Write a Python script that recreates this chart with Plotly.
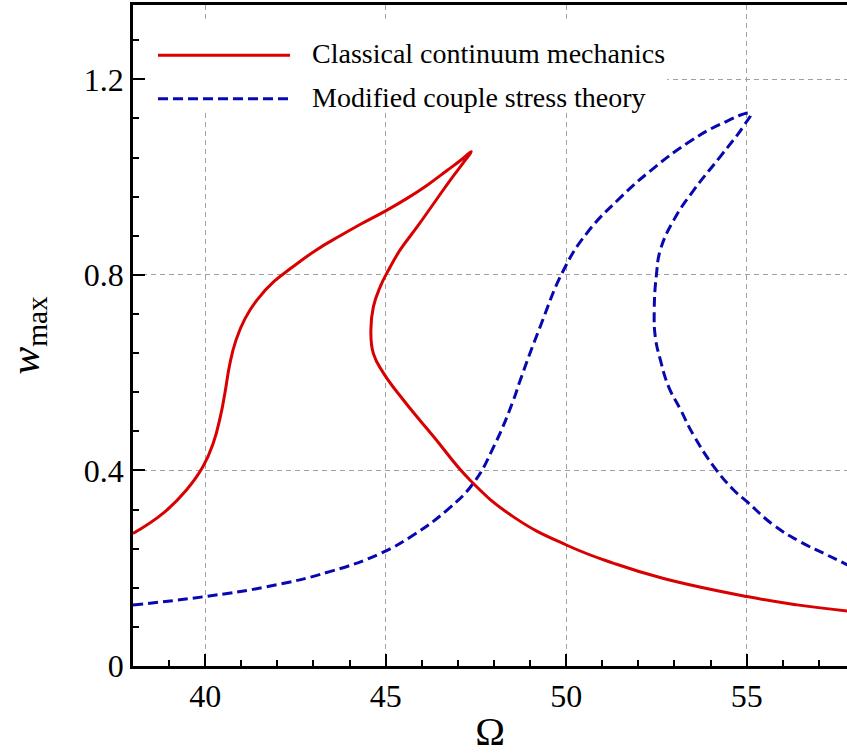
import plotly.graph_objects as go

# Classical continuum mechanics (path along the response curve)
ccm_omega = [38.0, 38.83, 39.48, 39.94, 40.22, 40.42, 40.55, 40.68, 40.85, 41.1, 41.45, 41.9, 42.4,
             43.08, 43.74, 44.29, 45.0, 45.58, 46.14, 46.69, 47.07, 47.37,
             47.21, 46.79, 46.33, 45.87, 45.4, 45.08, 44.85, 44.66, 44.59, 44.66, 44.94, 45.49,
             46.33, 47.34, 48.54, 50.02, 51.32, 52.7, 55.01, 56.4, 57.79]
ccm_w = [0.271, 0.312, 0.36, 0.408, 0.455, 0.51, 0.56, 0.617, 0.666, 0.71, 0.75, 0.786, 0.815,
         0.851, 0.880, 0.903, 0.931, 0.956, 0.983, 1.013, 1.034, 1.052,
         1.035, 0.994, 0.946, 0.898, 0.851, 0.81, 0.776, 0.735, 0.687, 0.639, 0.599, 0.544,
         0.469, 0.38, 0.305, 0.247, 0.21, 0.179, 0.142, 0.125, 0.1125]

# Modified couple stress theory
mcst_omega = [38.0, 39.99, 41.7, 43.45, 44.85, 45.77, 46.7, 47.43, 47.99, 48.54, 48.73, 49.28,
              49.93, 50.57, 51.5, 52.42, 53.35, 54.27, 55.1,
              54.91, 54.27, 53.53, 52.98, 52.61, 52.5, 52.44, 52.47, 52.61, 52.84, 53.17, 53.53,
              54.09, 54.64, 55.01, 55.75, 56.49, 57.23, 57.79]
mcst_w = [0.1247, 0.142, 0.162, 0.193, 0.23, 0.268, 0.319, 0.374, 0.448, 0.544, 0.585, 0.694,
          0.81, 0.885, 0.958, 1.018, 1.069, 1.108, 1.13,
          1.104, 1.042, 0.973, 0.912, 0.851, 0.80, 0.728, 0.673, 0.626, 0.571, 0.524, 0.472,
          0.408, 0.36, 0.336, 0.288, 0.254, 0.227, 0.207]

series_names = ["Classical continuum mechanics", "Modified couple stress theory"]
x_ticks = [40, 45, 50, 55]
y_ticks = [0, 0.4, 0.8, 1.2]

RED = "#d80000"
BLUE = "#0808b0"
FONT = "Liberation Serif"

fig = go.Figure()
fig.add_trace(go.Scatter(x=ccm_omega, y=ccm_w, mode="lines", name=series_names[0],
                         line=dict(color=RED, width=3, shape="spline", smoothing=1.3),
                         showlegend=False))
fig.add_trace(go.Scatter(x=mcst_omega, y=mcst_w, mode="lines", name=series_names[1],
                         line=dict(color=BLUE, width=3, dash="10px,5px", shape="spline", smoothing=1.3),
                         showlegend=False))

# manual legend box (white background hides grid)
fig.add_shape(type="rect", xref="x", yref="y", x0=38.2, x1=52.8, y0=1.131, y1=1.324,
              fillcolor="white", line=dict(width=0), layer="between")
fig.add_shape(type="line", xref="x domain", yref="y domain", x0=0.035, x1=0.220, y0=0.924, y1=0.924,
              line=dict(color=RED, width=3))
fig.add_shape(type="line", xref="x domain", yref="y domain", x0=0.035, x1=0.220, y0=0.858, y1=0.858,
              line=dict(color=BLUE, width=3, dash="10px,5px"))
for name, yy in zip(series_names, [0.926, 0.860]):
    fig.add_annotation(xref="x domain", yref="y domain", x=0.248, y=yy, text=name, showarrow=False,
                       xanchor="left", yanchor="middle", font=dict(family=FONT, size=28, color="black"))

axis_common = dict(
    showline=True, linecolor="black", linewidth=2.5,
    ticks="inside", ticklen=12, tickwidth=2, tickcolor="black",
    showgrid=True, gridcolor="#a0a0a0", gridwidth=1, griddash="5px,4px",
    zeroline=False,
    tickfont=dict(family=FONT, size=32, color="black"),
)

fig.update_xaxes(range=[38, 57.78], tickvals=x_ticks, mirror=True,
                 minor=dict(dtick=1, tick0=38, ticks="inside", ticklen=6, tickwidth=1.5, tickcolor="black", showgrid=False),
                 title=dict(text="Ω", font=dict(family=FONT, size=40, color="black"), standoff=8),
                 **axis_common)
fig.update_yaxes(range=[0, 1.352], tickvals=y_ticks, ticktext=["0", "0.4", "0.8", "1.2"],
                 minor=dict(dtick=0.08, tick0=0, ticks="inside", ticklen=6, tickwidth=1.5, tickcolor="black", showgrid=False),
                 title=dict(text="<i>w</i><sub>max</sub>", font=dict(family=FONT, size=42, color="black"), standoff=32),
                 **axis_common)

fig.update_layout(width=847, height=754, margin=dict(l=133, r=0, t=5, b=88),
                  plot_bgcolor="white", paper_bgcolor="white", showlegend=False,
                  font=dict(family=FONT, color="black"))

fig.write_html("out.html")
